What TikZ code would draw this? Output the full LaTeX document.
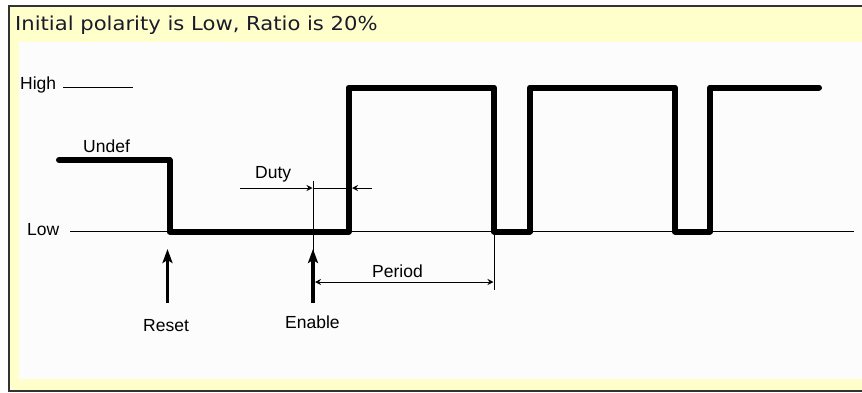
\documentclass[tikz,border=0pt]{standalone}
\usepackage{fontspec}
\usepackage{graphicx}
\setmainfont{Liberation Sans}
\newfontfamily\titlefont{DejaVu Sans}
\usetikzlibrary{arrows.meta}
\definecolor{bandyellow}{HTML}{FFFFCC}
\definecolor{innerwhite}{HTML}{FCFCFC}
\definecolor{framegray}{HTML}{333333}
\definecolor{titleink}{HTML}{1A1A2A}
\tikzset{
  lbl/.style={anchor=base west, inner sep=0pt, font=\fontsize{17.5}{20}\selectfont},
  wave/.style={line width=6pt, line join=round, line cap=round},
  thinline/.style={line width=1pt},
  dimarrow/.style={line width=1pt, -{Stealth[length=6pt,width=6pt,inset=2pt]}},
  markarrow/.style={line width=3.5pt, -{Stealth[length=14pt,width=10pt,inset=3pt]}}
}
\begin{document}
\begin{tikzpicture}[x=1pt,y=-1pt]
\useasboundingbox (0,0) rectangle (862,392);
% background
\fill[white] (0,0) rectangle (862,392);
\fill[bandyellow] (9,6) rectangle (862,391);
\fill[innerwhite] (19,42) rectangle (862,379);
\draw[framegray, line width=2pt] (862,6) -- (9,6) -- (9,391) -- (862,391);
% title
\node[anchor=base west, inner sep=0pt, text=titleink] (title) at (15,30.5)
  {\scalebox{1.1}[1]{\titlefont\fontsize{19.2}{22}\selectfont Initial polarity is Low, Ratio is 20\%}};
% level labels and reference lines
\node[lbl] (high) at (20,89) {High};
\node[lbl] (low) at (27,235.5) {Low};
\node[lbl] (undef) at (83,152) {Undef};
\coordinate (highA) at (63,87);
\coordinate (highB) at (133,87);
\draw[thinline] (highA) -- (highB);
\coordinate (lowA) at (70,231);
\coordinate (lowB) at (854,231);
\draw[thinline] (lowA) -- (lowB);
% waveform
\draw[wave] (59,160) -- (169.5,160) -- (169.5,231.5) -- (348.5,231.5) -- (348.5,87.5)
  -- (494,87.5) -- (494,231.5) -- (530,231.5) -- (530,87.5) -- (675,87.5)
  -- (675,231.5) -- (710,231.5) -- (710,87.5) -- (819,87.5);
% extension lines
\coordinate (extTop) at (313,181);
\coordinate (extBot) at (313,290);
\draw[thinline] (extTop) -- (extBot);
\coordinate (perTop) at (494,231);
\coordinate (perBot) at (494,290);
\draw[thinline] (perTop) -- (perBot);
% duty dimension
\node[lbl] (duty) at (255,178.5) {Duty};
\coordinate (dutyL) at (240,188);
\coordinate (dutyTipL) at (312.5,188);
\coordinate (dutyR) at (372,188);
\coordinate (dutyTipR) at (352,188);
\draw[dimarrow] (dutyL) -- (dutyTipL);
\draw[thinline] (dutyTipL) -- (dutyTipR);
\draw[dimarrow] (dutyR) -- (dutyTipR);
% period dimension
\node[lbl] (period) at (372,277) {Period};
\coordinate (perL) at (315,282);
\coordinate (perR) at (493.5,282);
\draw[dimarrow, {Stealth[length=6pt,width=6pt,inset=2pt]}-{Stealth[length=6pt,width=6pt,inset=2pt]}] (perL) -- (perR);
% reset and enable markers
\node[lbl] (reset) at (143,331.5) {Reset};
\node[lbl] (enable) at (285,328) {Enable};
\coordinate (resetFoot) at (167.5,303);
\coordinate (resetTip) at (167.5,249);
\draw[markarrow] (resetFoot) -- (resetTip);
\coordinate (enableFoot) at (313,303);
\coordinate (enableTip) at (313,249);
\draw[markarrow] (enableFoot) -- (enableTip);
\end{tikzpicture}
\end{document}
